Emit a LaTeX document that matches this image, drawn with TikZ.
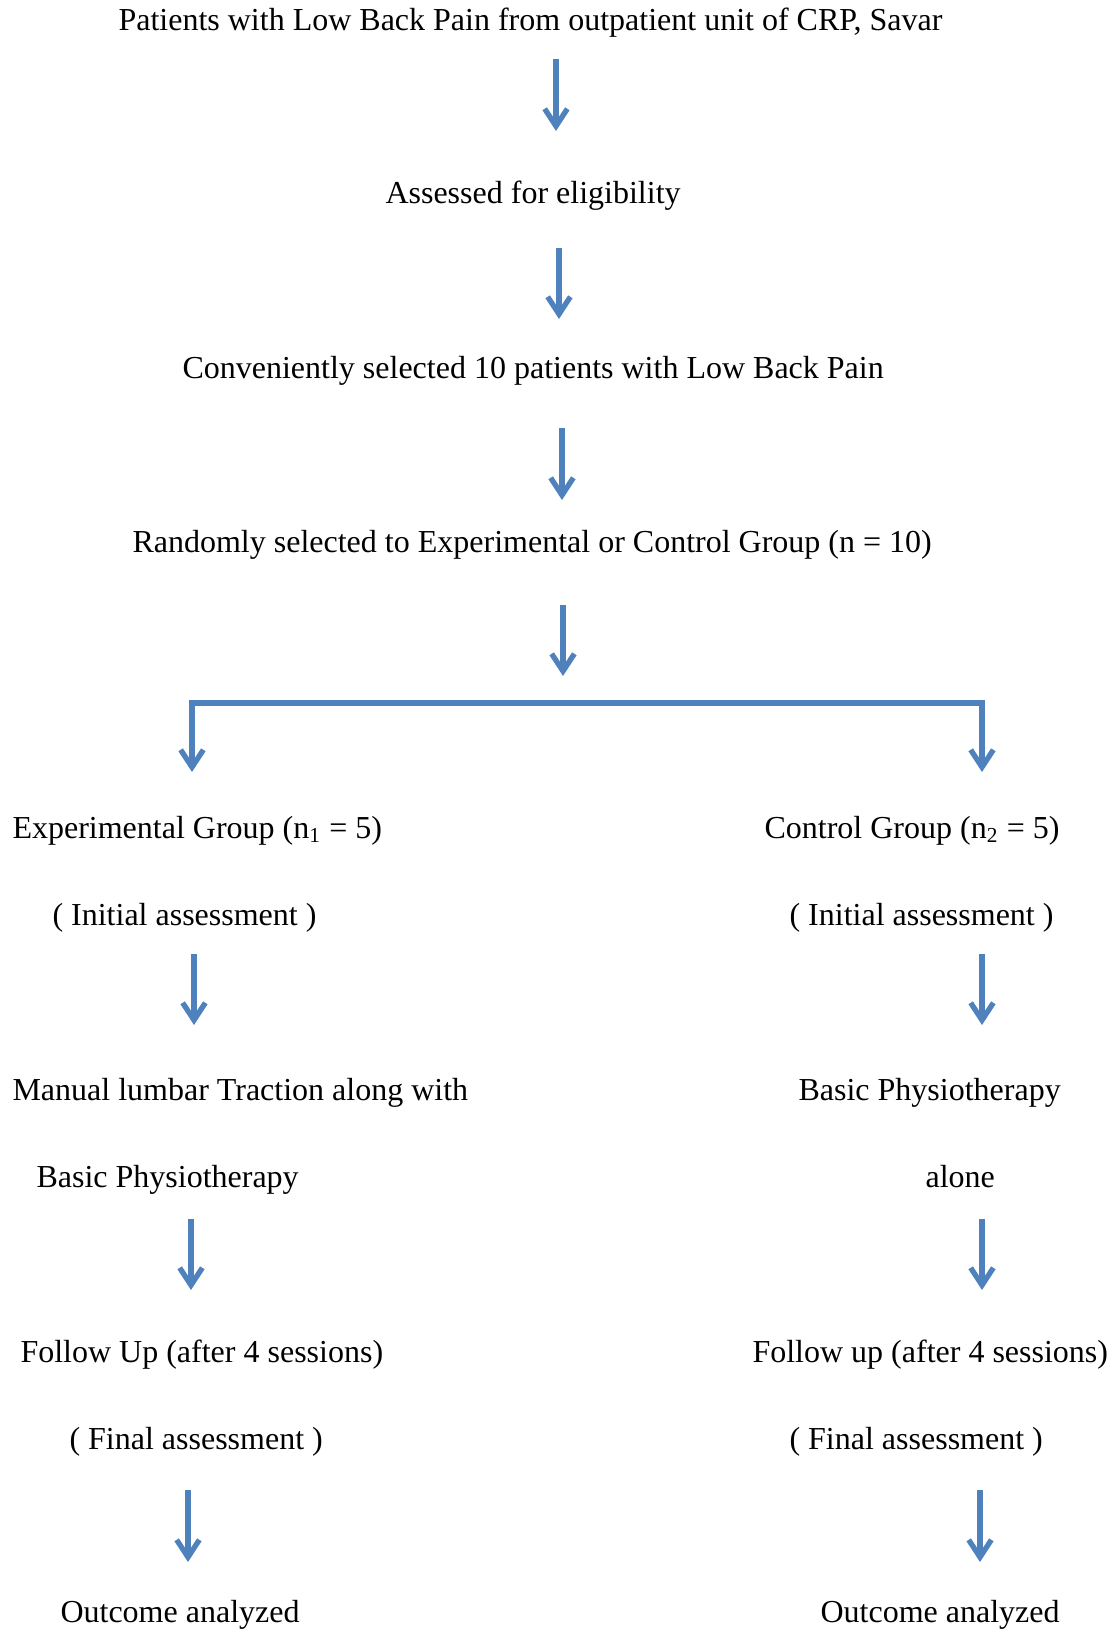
\documentclass[tikz,border=0pt]{standalone}
\usepackage{fontspec}
\setmainfont{Liberation Serif}
\usetikzlibrary{arrows.meta}
\definecolor{bleu}{RGB}{79,129,189}
\tikzset{fleche/.style={line width=2pt, color=bleu,
                        -{Straight Barb[length=6.5pt,width=8.5pt]}},
         barre/.style={line width=2.5pt, color=bleu, line cap=rect},
         texte/.style={anchor=base west, inner sep=0pt,
                       font=\fontsize{12pt}{14pt}\selectfont}}

\begin{document}
\begin{tikzpicture}[x=0.375pt, y=-0.375pt]
\useasboundingbox (0,0) rectangle (1118,1629);
% Common steps:
\node[texte] (pat) at (118,31) {Patients with Low Back Pain from outpatient unit of CRP, Savar};
\node[texte] (ass) at (385,204) {Assessed for eligibility};
\node[texte] (conv) at (182,379) {Conveniently selected 10 patients with Low Back Pain};
\node[texte] (rand) at (132,552) {Randomly selected to Experimental or Control Group (n = 10)};
\coordinate (h1) at (556,59);  \coordinate (t1) at (556,131);
\coordinate (h2) at (559,248); \coordinate (t2) at (559,319);
\coordinate (h3) at (562,428); \coordinate (t3) at (562,500);
\coordinate (h4) at (563,605); \coordinate (t4) at (563,676);
\draw[fleche] (h1) -- (t1);
\draw[fleche] (h2) -- (t2);
\draw[fleche] (h3) -- (t3);
\draw[fleche] (h4) -- (t4);
% Split in two groups:
\coordinate (gauche) at (192,703);
\coordinate (droite) at (982,703);
\draw[barre] (gauche) -- (droite);
\draw[fleche] (gauche) -- ++(0,69) coordinate (tg);
\draw[fleche] (droite) -- ++(0,69) coordinate (td);
% Experimental group (left):
\node[texte] (exp) at (12,838) {Experimental Group (n\textsubscript{1} = 5)};
\node[texte] (expini) at (52,925) {( Initial assessment )};
\node[texte] (man) at (12,1100) {Manual lumbar Traction along with};
\node[texte] (manb) at (36,1187) {Basic Physiotherapy};
\node[texte] (expfol) at (20,1362) {Follow Up (after 4 sessions)};
\node[texte] (expfin) at (69,1449) {( Final assessment )};
\node[texte] (expout) at (60,1622) {Outcome analyzed};
\coordinate (hg1) at (194,954);  \coordinate (tg1) at (194,1025);
\coordinate (hg2) at (191,1219); \coordinate (tg2) at (191,1290);
\coordinate (hg3) at (188,1490); \coordinate (tg3) at (188,1562);
\draw[fleche] (hg1) -- (tg1);
\draw[fleche] (hg2) -- (tg2);
\draw[fleche] (hg3) -- (tg3);
% Control group (right):
\node[texte] (ctl) at (764,838) {Control Group (n\textsubscript{2} = 5)};
\node[texte] (ctlini) at (789,925) {( Initial assessment )};
\node[texte] (bas) at (798,1100) {Basic Physiotherapy};
\node[texte] (basb) at (925,1187) {alone};
\node[texte] (ctlfol) at (752,1362) {Follow up (after 4 sessions)};
\node[texte] (ctlfin) at (789,1449) {( Final assessment )};
\node[texte] (ctlout) at (820,1622) {Outcome analyzed};
\coordinate (hd1) at (982,954);  \coordinate (td1) at (982,1025);
\coordinate (hd2) at (982,1219); \coordinate (td2) at (982,1290);
\coordinate (hd3) at (980,1490); \coordinate (td3) at (980,1562);
\draw[fleche] (hd1) -- (td1);
\draw[fleche] (hd2) -- (td2);
\draw[fleche] (hd3) -- (td3);
\end{tikzpicture}
\end{document}
